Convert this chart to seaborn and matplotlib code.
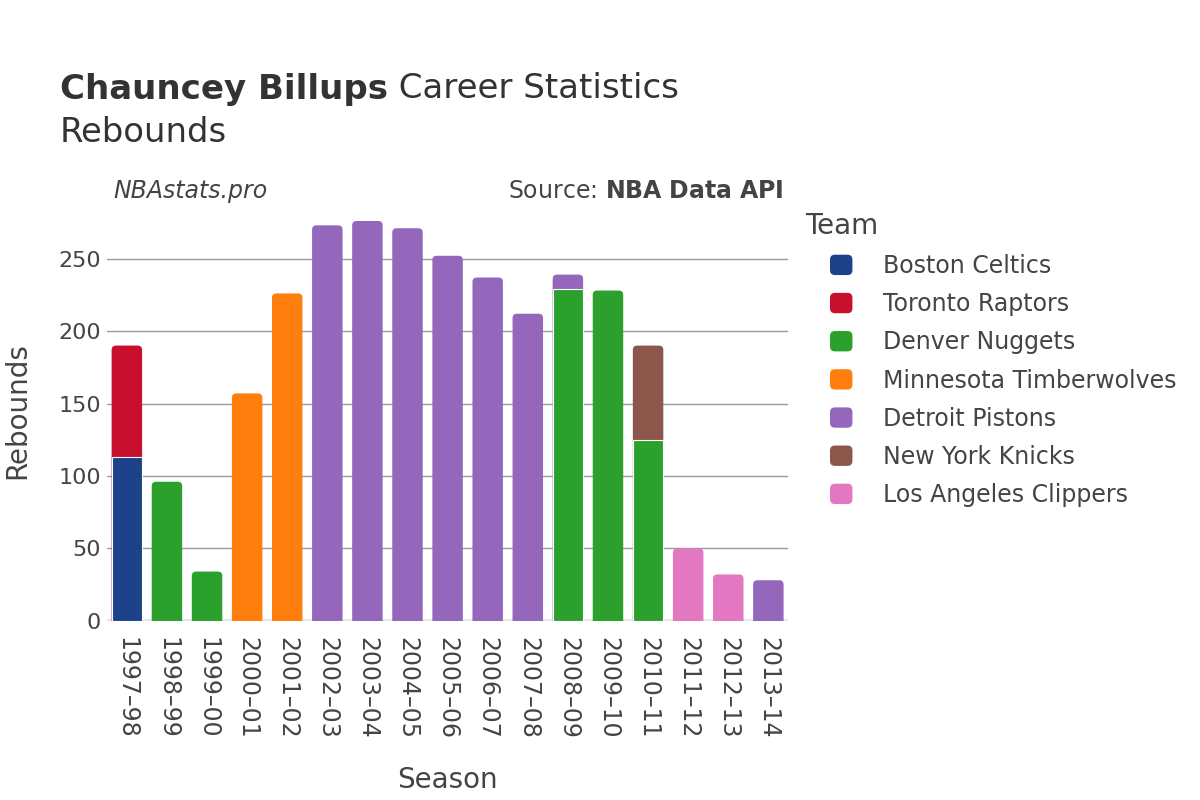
import matplotlib
matplotlib.use('Agg')
import matplotlib.pyplot as plt
import seaborn as sns
import pandas as pd
from matplotlib.patches import Patch, FancyBboxPatch
from matplotlib.legend_handler import HandlerPatch

seasons = ['1997–98', '1998–99', '1999–00', '2000–01', '2001–02', '2002–03',
           '2003–04', '2004–05', '2005–06', '2006–07', '2007–08', '2008–09',
           '2009–10', '2010–11', '2011–12', '2012–13', '2013–14']
first_team = ['Boston Celtics', 'Denver Nuggets', 'Denver Nuggets',
              'Minnesota Timberwolves', 'Minnesota Timberwolves',
              'Detroit Pistons', 'Detroit Pistons', 'Detroit Pistons',
              'Detroit Pistons', 'Detroit Pistons', 'Detroit Pistons',
              'Denver Nuggets', 'Denver Nuggets', 'Denver Nuggets',
              'Los Angeles Clippers', 'Los Angeles Clippers', 'Detroit Pistons']
first_reb = [113, 96, 34, 157, 226, 273, 276, 271, 252, 237, 212, 229, 228, 125, 50, 32, 28]

second_season = ['1997–98', '2008–09', '2010–11']
second_team = ['Toronto Raptors', 'Detroit Pistons', 'New York Knicks']
second_reb = [77, 10, 65]

teams = ['Boston Celtics', 'Toronto Raptors', 'Denver Nuggets', 'Minnesota Timberwolves',
         'Detroit Pistons', 'New York Knicks', 'Los Angeles Clippers']
team_colors = ['#1d428a', '#c8102e', '#2ca02c', '#ff7f0e', '#9467bd', '#8c564b', '#e377c2']
palette = dict(zip(teams, team_colors))

df1 = pd.DataFrame({'Season': seasons, 'Team': first_team, 'top': first_reb})
base = dict(zip(seasons, first_reb))
df2 = pd.DataFrame({'Season': second_season, 'Team': second_team,
                    'top': [base[s] + v for s, v in zip(second_season, second_reb)]})
totals = dict(zip(seasons, first_reb))
for s, v in zip(second_season, second_reb):
    totals[s] += v


class RoundHandler(HandlerPatch):
    def create_artists(self, legend, orig_handle, xdescent, ydescent, width, height,
                       fontsize, trans):
        p = FancyBboxPatch((-xdescent, -ydescent), width, height,
                           boxstyle=f'round,pad=0,rounding_size={0.22 * width}',
                           facecolor=orig_handle.get_facecolor(), edgecolor='none',
                           transform=trans)
        return [p]


sns.set_theme(style='white')
plt.rcParams['font.family'] = ['DejaVu Sans']
txt = '#444444'

fig = plt.figure(figsize=(12, 8), dpi=100)
ax = fig.add_axes([0.089, 0.224, 0.568, 0.526])

# stacked: draw cumulative tops first, base segments over them
for d in (df2, df1):
    sns.barplot(data=d, x='Season', y='top', hue='Team', order=seasons, hue_order=teams,
                palette=palette, dodge=False, width=0.76, saturation=1, legend=False,
                edgecolor='white', linewidth=0.8, ax=ax)

ymax = 290.5
ax.set_ylim(0, ymax)
ax.set_xlim(-0.5, len(seasons) - 0.5)

# round the top corners of the topmost segment of each bar
rx = 0.11
ry = 3.0
for p in list(ax.patches):
    x, y0, w, h = p.get_x(), p.get_y(), p.get_width(), p.get_height()
    if h <= 0:
        continue
    i = int(round(x + w / 2))
    if abs((y0 + h) - totals[seasons[i]]) < 1e-6:
        p.set_visible(False)
        ax.add_patch(FancyBboxPatch((x, y0 - ry - 1), w, h + ry + 1,
                                    boxstyle=f'round,pad=0,rounding_size={rx}',
                                    mutation_aspect=ry / rx, facecolor=p.get_facecolor(),
                                    edgecolor='none', zorder=0.95))

ax.set_yticks([0, 50, 100, 150, 200, 250])
ax.yaxis.grid(True, color='#999999', linewidth=1)
ax.set_axisbelow(True)
ax.axhline(0, color='#e8e8e8', linewidth=3, zorder=0.9)
for s in ax.spines.values():
    s.set_visible(False)
ax.tick_params(axis='both', length=0, labelcolor=txt)
ax.tick_params(axis='y', labelsize=16, pad=4)
ax.tick_params(axis='x', labelsize=17, pad=12)
plt.setp(ax.get_xticklabels(), rotation=-90, ha='center', va='top')
ax.set_xlabel('Season', fontsize=20, color=txt, labelpad=19)
ax.set_ylabel('Rebounds', fontsize=20, color=txt, labelpad=20)

t1 = fig.text(0.05, 1 - 89 / 800, 'Chauncey Billups', fontsize=24.5, fontweight='bold',
              color='#333333', va='center')
ax.annotate(' Career Statistics', xy=(1, 0), xycoords=t1, va='bottom', ha='left',
            fontsize=24.5, color='#333333', annotation_clip=False)
fig.text(0.05, 1 - 133 / 800, 'Rebounds', fontsize=24.4, color='#333333', va='center')
fig.text(113 / 1200, 1 - 191 / 800, 'NBAstats.pro', fontsize=17, style='italic',
         color=txt, va='center')
fig.text(784 / 1200, 1 - 191 / 800, 'Source: $\\bf{NBA\\ Data\\ API}$', fontsize=17,
         color=txt, va='center', ha='right')

fig.text(805 / 1200, 1 - 226 / 800, 'Team', fontsize=20, color=txt, va='center')
handles = [Patch(facecolor=palette[t], edgecolor='none', label=t) for t in teams]
leg = fig.legend(handles=handles, loc='upper left', bbox_to_anchor=(830 / 1200, 1 - 254 / 800),
                 frameon=False, fontsize=17, handlelength=0.95, handleheight=0.95,
                 handletextpad=1.3, labelspacing=0.6, borderaxespad=0, borderpad=0,
                 handler_map={Patch: RoundHandler()})
for t in leg.get_texts():
    t.set_color(txt)

fig.savefig('out.png', dpi=100)
